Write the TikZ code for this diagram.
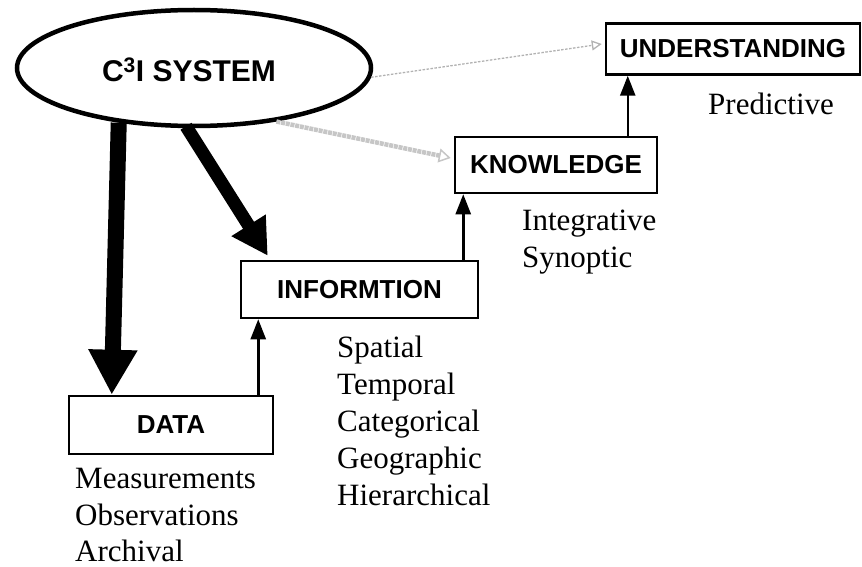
\documentclass[tikz,border=0pt]{standalone}
\usepackage{fontspec}
\setmainfont{Liberation Serif}
\setsansfont{Liberation Sans}
\usetikzlibrary{arrows.meta,shapes.geometric,calc}
\begin{document}
\begin{tikzpicture}[x=1pt,y=-1pt,
  boxlab/.style={draw, line width=2.5pt, rectangle, inner sep=0pt,
    font=\sffamily\bfseries\fontsize{26}{30}\selectfont},
  desc/.style={anchor=base west, inner sep=0pt, font=\fontsize{31}{37}\selectfont},
  bigarrow/.style={line width=16pt, -{Triangle[length=45pt,width=46pt]}},
  midarrow/.style={line width=13pt, -{Triangle[length=36pt,width=38pt]}},
  thinarrow/.style={line width=2.5pt, -{Triangle[length=20pt,width=15pt]}},
  grayline/.style={gray!60, line width=1.3pt, dash pattern=on 2.5pt off 1.5pt,
    -{Triangle[open,length=10pt,width=10pt]}},
  grayband/.style={gray!45, line width=4.5pt, dash pattern=on 4pt off 0.8pt,
    -{Triangle[open,length=12pt,width=14pt,line width=1.5pt]}}
]
\useasboundingbox (0,0) rectangle (862,567);
% C3I system
\node[ellipse, draw, line width=4.5pt, minimum width=354pt, minimum height=116pt] (ell) at (194,68) {};
\node[font=\sffamily\bfseries\fontsize{30}{36}\selectfont, inner sep=0pt] (elltext) at (189,70) {C\textsuperscript{3}I SYSTEM};
% boxes
\node[boxlab, minimum width=204pt, minimum height=58pt] (data) at (171,425) {DATA};
\node[boxlab, minimum width=237pt, minimum height=57pt] (info) at (359.5,289.5) {INFORMTION};
\node[boxlab, minimum width=202pt, minimum height=56pt] (know) at (556,165) {KNOWLEDGE};
\node[boxlab, minimum width=254pt, minimum height=51pt] (und) at (733,49) {UNDERSTANDING};
% descriptions
\node[desc] (d1) at (75,488) {Measurements};
\node[desc] (d2) at (75,525) {Observations};
\node[desc] (d3) at (75,561) {Archival};
\node[desc] (i1) at (337,357) {Spatial};
\node[desc] (i2) at (337,394) {Temporal};
\node[desc] (i3) at (337,431) {Categorical};
\node[desc] (i4) at (337,468) {Geographic};
\node[desc] (i5) at (337,505) {Hierarchical};
\node[desc] (k1) at (522,230) {Integrative};
\node[desc] (k2) at (522,267) {Synoptic};
\node[desc] (u1) at (708,115) {Predictive};
% connectors
\draw[bigarrow] (ell.216) -- ($(data.north west)+(44,0)$);
\draw[midarrow] ($(ell.south)+(-8,-2)$) -- ($(info.north west)+(28,-4)$);
\draw[thinarrow] ($(data.north east)+(-16,0)$) coordinate (a1) -- (a1 |- info.south);
\draw[thinarrow] ($(info.north east)+(-16,0)$) coordinate (a2) -- (a2 |- know.south);
\draw[thinarrow] ($(know.north west)+(174,0)$) coordinate (a3) -- (a3 |- und.south);
\draw[grayline] (ell.-3) -- ($(und.west)+(-3,-5)$);
\draw[grayband] (ell.-33) -- ($(know.west)+(-3,-7)$);
\end{tikzpicture}
\end{document}
